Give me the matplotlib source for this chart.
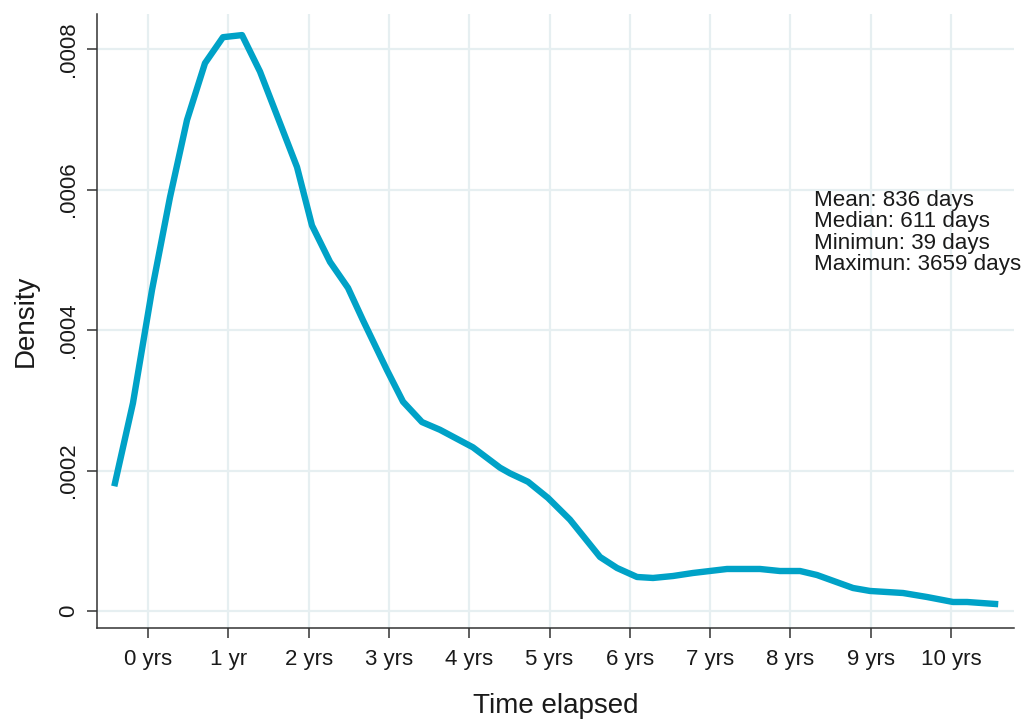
"""
Kernel density of time elapsed (in years), redrawn from a Stata-style figure.
"""
import matplotlib
matplotlib.use("Agg")
from matplotlib import pyplot as plt

# density curve (x in years, y is density per day)
years_elapsed = [-0.411, -0.187, 0.050, 0.274, 0.486, 0.710, 0.934, 1.171,
                 1.395, 1.856, 2.042, 2.267, 2.491, 2.677, 2.976, 3.176, 3.412,
                 3.636, 4.047, 4.384, 4.508, 4.732, 4.981, 5.255, 5.629, 5.841,
                 6.090, 6.289, 6.538, 6.787, 7.210, 7.621, 7.870, 8.120, 8.331,
                 8.780, 8.991, 9.203, 9.402, 9.701, 10.025, 10.199, 10.548]
density = [0.000182, 0.000296, 0.000457, 0.000589, 0.000699, 0.000780,
           0.000817, 0.000820, 0.000768, 0.000632, 0.000549, 0.000497, 0.000460,
           0.000414, 0.000343, 0.000298, 0.000269, 0.000258, 0.000233, 0.000204,
           0.000196, 0.000184, 0.000161, 0.000130, 0.0000769, 0.0000612,
           0.0000484, 0.0000470, 0.0000498, 0.0000541, 0.0000598, 0.0000598,
           0.0000569, 0.0000569, 0.0000512, 0.0000327, 0.0000285, 0.0000270,
           0.0000256, 0.0000199, 0.0000128, 0.0000128, 0.0000100]

x_ticks = list(range(0, 11))
x_tick_labels = ["0 yrs", "1 yr", "2 yrs", "3 yrs", "4 yrs", "5 yrs",
                 "6 yrs", "7 yrs", "8 yrs", "9 yrs", "10 yrs"]
y_ticks = [0, 0.0002, 0.0004, 0.0006, 0.0008]
y_tick_labels = ["0", ".0002", ".0004", ".0006", ".0008"]
summary_lines = ["Mean: 836 days", "Median: 611 days",
                 "Minimun: 39 days", "Maximun: 3659 days"]

plt.rcParams["font.family"] = ["Liberation Sans", "DejaVu Sans"]

fig = plt.figure(figsize=(10.23, 7.19), dpi=100)
ax = fig.add_axes([0.0948, 0.1266, 0.8964, 0.8539])

ax.plot(years_elapsed, density, color="#00a2c7", linewidth=4.6, zorder=3)

ax.set_xlim(-0.635, 10.784)
ax.set_ylim(-0.0000242, 0.00085)
ax.set_xticks(x_ticks)
ax.set_xticklabels(x_tick_labels)
ax.set_yticks(y_ticks)
ax.set_yticklabels(y_tick_labels, rotation=90, va="center")

ax.grid(True, color="#e6eff1", linewidth=1.6, zorder=0)
ax.set_axisbelow(True)
for side in ["top", "right"]:
    ax.spines[side].set_visible(False)
for side in ["left", "bottom"]:
    ax.spines[side].set_color("#333333")
    ax.spines[side].set_linewidth(1.1)

ax.tick_params(axis="both", length=7, width=1.1, color="#333333",
               labelsize=16, labelcolor="#1a1a1a")
ax.tick_params(axis="x", pad=8)
ax.tick_params(axis="y", pad=6)

ax.set_xlabel("Time elapsed", fontsize=20, color="#1a1a1a", labelpad=17)
ax.set_ylabel("Density", fontsize=20, color="#1a1a1a", labelpad=14)

ax.text(8.29, 0.000600, "\n".join(summary_lines), fontsize=16.1,
        color="#1a1a1a", va="top", ha="left", linespacing=1.03)

fig.savefig("out.png", dpi=100)
